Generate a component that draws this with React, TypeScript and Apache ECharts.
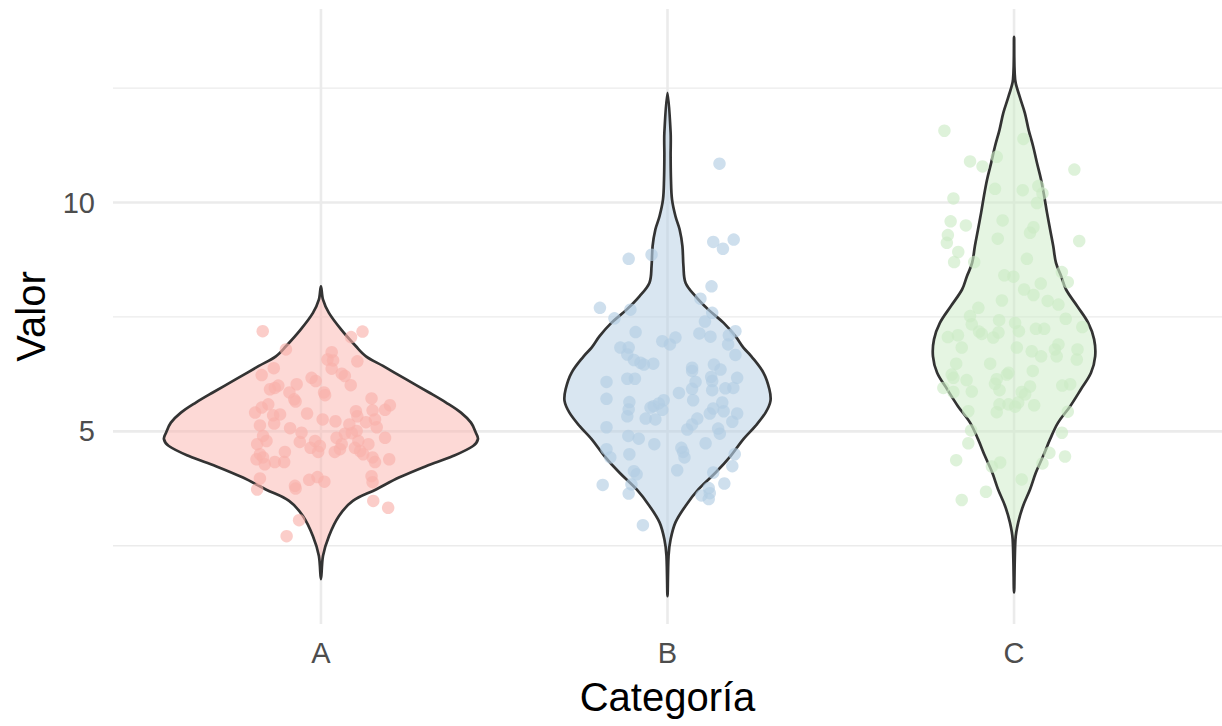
import React, { useEffect, useRef } from "react";
import * as echarts from "echarts";

const categories = ["A", "B", "C"];
const fillColors = ["rgba(251,180,174,0.5)", "rgba(179,205,227,0.5)", "rgba(204,235,197,0.5)"];
const pointColors = ["rgba(249,176,170,0.8)", "rgba(179,205,227,0.8)", "rgba(204,235,197,0.8)"];

const yMajor = [5, 10];
const yMinor = [2.5, 7.5, 12.5];
const yTickLabels = [5, 10];

// violin outlines: value positions and half-widths (x units)
const violinY_A = [1.77, 2.28, 2.71, 3.15, 3.48, 3.73, 3.99, 4.24, 4.46, 4.68, 4.83, 4.97, 5.19, 5.41, 5.63, 5.85, 6.14, 6.43, 6.64, 6.86, 7.23, 7.59, 7.88, 8.17];
const violinW_A = [0, 0.006, 0.023, 0.052, 0.092, 0.159, 0.225, 0.303, 0.381, 0.439, 0.453, 0.447, 0.433, 0.404, 0.361, 0.312, 0.245, 0.179, 0.13, 0.101, 0.058, 0.023, 0.006, 0];

const violinY_B = [1.4, 2.28, 2.64, 3.01, 3.37, 3.73, 4.1, 4.46, 4.83, 5.12, 5.41, 5.66, 5.92, 6.28, 6.64, 6.83, 7.08, 7.37, 7.66, 7.95, 8.25, 8.61, 9.05, 9.41, 9.7, 10.07, 10.5, 11.01, 11.53, 12.4];
const violinW_B = [0, 0.003, 0.009, 0.023, 0.052, 0.089, 0.139, 0.182, 0.219, 0.254, 0.283, 0.297, 0.294, 0.277, 0.242, 0.219, 0.196, 0.162, 0.118, 0.081, 0.052, 0.046, 0.043, 0.035, 0.023, 0.013, 0.01, 0.009, 0.009, 0];

const violinY_C = [1.48, 2.64, 3.01, 3.37, 3.73, 4.1, 4.46, 4.83, 5.19, 5.55, 5.92, 6.28, 6.64, 7.01, 7.37, 7.74, 8.1, 8.39, 8.68, 9.05, 9.41, 9.78, 10.14, 10.5, 10.87, 11.23, 11.59, 11.96, 12.32, 12.69, 13.62];
const violinW_C = [0, 0.004, 0.012, 0.026, 0.046, 0.063, 0.084, 0.104, 0.127, 0.162, 0.193, 0.222, 0.234, 0.231, 0.214, 0.182, 0.15, 0.136, 0.121, 0.113, 0.104, 0.095, 0.087, 0.078, 0.066, 0.055, 0.042, 0.031, 0.016, 0.003, 0];

// jittered points: horizontal jitter offset and value
const jitterA = [-0.168, 0.12, 0.087, -0.101, 0.031, 0.019, 0.035, 0.105, -0.136, 0.031, 0.06, 0.069, -0.171, -0.027, -0.015, 0.086, -0.07, -0.123, -0.147, -0.133, 0.009, 0.012, -0.091, -0.077, -0.073, 0.146, -0.152, -0.171, -0.19, 0.199, 0.185, 0.149, 0.101, 0.105, -0.04, -0.118, -0.138, 0.005, 0.042, 0.13, 0.156, -0.176, -0.135, 0.082, 0.161, -0.089, -0.056, 0.103, 0.089, 0.069, -0.167, 0.045, 0.185, -0.157, -0.184, -0.061, -0.017, 0.06, 0.108, 0.137, -0.03, -0.003, -0.008, 0.04, 0.055, 0.098, 0.113, 0.122, -0.104, -0.176, -0.167, -0.186, -0.162, -0.133, -0.106, 0.149, 0.156, 0.197, -0.176, -0.184, -0.075, -0.073, -0.034, -0.01, 0.01, 0.146, 0.149, 0.151, 0.194, -0.063, -0.099];
const valueA = [7.19, 7.18, 7.06, 6.79, 6.73, 6.57, 6.55, 6.53, 6.38, 6.37, 6.26, 6.21, 6.23, 6.17, 6.1, 6.01, 6.03, 6.0, 5.92, 5.95, 5.85, 5.79, 5.85, 5.7, 5.65, 5.72, 5.59, 5.52, 5.41, 5.57, 5.47, 5.46, 5.44, 5.33, 5.39, 5.37, 5.35, 5.26, 5.22, 5.2, 5.26, 5.13, 5.17, 5.15, 5.09, 5.07, 4.97, 5.01, 4.96, 4.95, 4.9, 4.86, 4.86, 4.79, 4.72, 4.77, 4.79, 4.72, 4.79, 4.72, 4.64, 4.68, 4.55, 4.55, 4.61, 4.64, 4.57, 4.5, 4.55, 4.5, 4.43, 4.39, 4.28, 4.33, 4.33, 4.43, 4.33, 4.39, 3.97, 3.73, 3.81, 3.75, 3.94, 4.0, 3.9, 4.02, 3.89, 3.48, 3.33, 3.06, 2.71];

const jitterB = [0.15, 0.132, 0.191, 0.16, -0.112, -0.046, 0.127, 0.095, -0.195, -0.107, -0.153, 0.129, 0.108, -0.092, 0.092, 0.124, 0.196, 0.177, -0.015, 0.023, 0.007, -0.136, -0.112, 0.175, -0.116, -0.097, -0.078, -0.068, -0.041, 0.196, 0.071, 0.071, 0.134, 0.153, -0.176, -0.116, -0.094, 0.081, 0.126, 0.129, 0.201, 0.071, 0.129, 0.167, 0.19, 0.033, -0.176, 0.074, -0.11, -0.011, -0.025, -0.04, -0.049, -0.112, -0.116, -0.015, -0.063, -0.035, 0.158, 0.132, 0.162, 0.122, 0.201, 0.187, 0.086, 0.071, 0.057, -0.176, 0.146, 0.151, -0.113, -0.083, -0.038, 0.11, -0.176, -0.165, -0.11, 0.04, 0.045, 0.049, 0.194, 0.187, 0.028, -0.097, -0.089, 0.132, -0.187, -0.104, -0.112, 0.164, 0.119, 0.122, 0.098, 0.119, -0.071];
const valueB = [10.85, 9.14, 9.19, 8.99, 8.77, 8.86, 8.17, 7.9, 7.7, 7.66, 7.47, 7.59, 7.4, 7.17, 7.14, 7.07, 7.19, 7.1, 6.97, 7.05, 6.9, 6.83, 6.83, 6.9, 6.68, 6.56, 6.5, 6.46, 6.48, 6.67, 6.39, 6.32, 6.46, 6.35, 6.08, 6.15, 6.15, 6.08, 6.19, 6.1, 6.17, 5.93, 5.9, 5.94, 5.95, 5.84, 5.71, 5.68, 5.64, 5.68, 5.61, 5.55, 5.52, 5.48, 5.33, 5.47, 5.28, 5.26, 5.63, 5.5, 5.44, 5.39, 5.39, 5.21, 5.28, 5.15, 5.04, 5.09, 5.06, 4.95, 4.9, 4.84, 4.72, 4.74, 4.61, 4.43, 4.5, 4.64, 4.55, 4.43, 4.5, 4.24, 4.15, 4.13, 4.06, 4.1, 3.83, 3.84, 3.64, 3.86, 3.76, 3.65, 3.6, 3.52, 2.95];

const jitterC = [-0.201, 0.027, -0.127, -0.091, -0.05, 0.174, -0.175, -0.055, 0.025, 0.07, 0.082, 0.066, -0.183, -0.139, -0.033, 0.056, 0.046, -0.191, -0.194, -0.047, 0.188, -0.161, -0.173, -0.115, 0.037, 0.138, 0.155, -0.028, -0.002, 0.029, 0.077, 0.056, -0.035, 0.097, 0.128, -0.103, -0.127, -0.122, -0.043, 0.003, 0.014, 0.149, 0.197, 0.063, 0.087, -0.191, -0.162, -0.101, -0.093, -0.06, -0.045, -0.151, 0.008, 0.051, 0.078, 0.128, 0.118, 0.123, 0.183, 0.181, -0.167, -0.069, -0.18, -0.175, -0.137, -0.05, -0.055, -0.021, -0.016, 0.054, -0.204, -0.175, -0.122, -0.042, 0.046, 0.022, 0.032, 0.139, 0.162, -0.132, -0.05, -0.042, -0.016, 0.003, 0.012, 0.058, 0.155, -0.124, -0.132, 0.138, -0.167, -0.064, -0.04, 0.102, 0.082, 0.147, 0.022, -0.081, -0.151];
const valueC = [11.57, 11.39, 10.9, 10.79, 11.0, 10.72, 10.09, 10.3, 10.27, 10.36, 10.2, 9.99, 9.59, 9.5, 9.61, 9.46, 9.34, 9.29, 9.12, 9.21, 9.16, 8.92, 8.7, 8.7, 8.77, 8.48, 8.26, 8.41, 8.38, 8.1, 8.23, 7.98, 7.86, 7.85, 7.77, 7.7, 7.52, 7.34, 7.43, 7.37, 7.19, 7.46, 7.28, 7.24, 7.24, 7.06, 7.1, 7.18, 7.13, 7.05, 7.16, 6.83, 6.83, 6.75, 6.64, 6.9, 6.79, 6.64, 6.79, 6.57, 6.48, 6.48, 6.24, 6.17, 6.12, 6.14, 6.04, 6.24, 6.28, 6.32, 5.95, 5.86, 5.87, 5.9, 5.98, 5.86, 5.81, 6.0, 6.03, 5.44, 5.42, 5.59, 5.59, 5.54, 5.63, 5.57, 5.43, 5.02, 4.74, 4.97, 4.37, 4.23, 4.32, 4.53, 4.3, 4.45, 3.95, 3.68, 3.5];

const violinYs = [violinY_A, violinY_B, violinY_C];
const violinWs = [violinW_A, violinW_B, violinW_C];
const jitters = [jitterA, jitterB, jitterC];
const values = [valueA, valueB, valueC];

const FONT = "'Liberation Sans', Arial, Helvetica, sans-serif";

export default function App() {
  const ref = useRef<HTMLDivElement>(null);

  useEffect(() => {
    if (!ref.current) return;
    const chart = echarts.init(ref.current, undefined, { renderer: "svg" });

    const gridSeries: any = {
      type: "custom",
      silent: true,
      z: 0,
      data: [[2, 7]],
      renderItem: (params: any, api: any) => {
        const cs = params.coordSys;
        const children: any[] = [];
        yMinor.forEach((v) => {
          const y = api.coord([2, v])[1];
          children.push({ type: "line", shape: { x1: cs.x, y1: y, x2: cs.x + cs.width, y2: y }, style: { stroke: "#EBEBEB", lineWidth: 1.3 } });
        });
        yMajor.forEach((v) => {
          const y = api.coord([2, v])[1];
          children.push({ type: "line", shape: { x1: cs.x, y1: y, x2: cs.x + cs.width, y2: y }, style: { stroke: "#EBEBEB", lineWidth: 2.6 } });
        });
        categories.forEach((_, i) => {
          const x = api.coord([i + 1, 5])[0];
          children.push({ type: "line", shape: { x1: x, y1: cs.y, x2: x, y2: cs.y + cs.height }, style: { stroke: "#EBEBEB", lineWidth: 2.6 } });
        });
        return { type: "group", children };
      },
    };

    const violinSeries: any = {
      type: "custom",
      silent: true,
      z: 1,
      data: [[1, 5], [2, 5], [3, 5]],
      renderItem: (params: any, api: any) => {
        const i = params.dataIndex;
        const ys = violinYs[i];
        const ws = violinWs[i];
        const cx = i + 1;
        const pts: number[][] = [];
        for (let k = 0; k < ys.length; k++) {
          const p = api.coord([cx - ws[k], ys[k]]);
          pts.push([p[0], p[1]]);
        }
        for (let k = ys.length - 2; k >= 1; k--) {
          const p = api.coord([cx + ws[k], ys[k]]);
          pts.push([p[0], p[1]]);
        }
        return {
          type: "polygon",
          shape: { points: pts, smooth: 0.35 },
          style: { fill: fillColors[i], stroke: "#333333", lineWidth: 2.7, lineJoin: "round" },
        };
      },
    };

    const scatterSeries = categories.map((c, i) => ({
      type: "scatter",
      name: c,
      z: 2,
      symbol: "circle",
      symbolSize: 12.5,
      silent: true,
      itemStyle: { color: pointColors[i], borderWidth: 0 },
      data: values[i].map((v, k) => [i + 1 + jitters[i][k], v]),
    }));

    chart.setOption({
      animation: false,
      backgroundColor: "#FFFFFF",
      grid: { left: 113, right: 0, top: 9, bottom: 102, containLabel: false },
      xAxis: {
        type: "value",
        min: 0.4,
        max: 3.6,
        name: "Categoría",
        nameLocation: "middle",
        nameGap: 53,
        nameTextStyle: { fontFamily: FONT, fontSize: 40, color: "#000000" },
        axisLine: { show: false },
        axisTick: { show: false },
        splitLine: { show: false },
        axisLabel: {
          customValues: [1, 2, 3],
          formatter: (v: number) => categories[Math.round(v) - 1] ?? "",
          fontFamily: FONT,
          fontSize: 29,
          color: "#4D4D4D",
          margin: 14,
        },
      },
      yAxis: {
        type: "value",
        min: 0.79,
        max: 14.23,
        name: "Valor",
        nameLocation: "middle",
        nameGap: 62,
        nameRotate: 90,
        nameTextStyle: { fontFamily: FONT, fontSize: 40, color: "#000000" },
        axisLine: { show: false },
        axisTick: { show: false },
        splitLine: { show: false },
        axisLabel: {
          customValues: yTickLabels,
          fontFamily: FONT,
          fontSize: 29,
          color: "#4D4D4D",
          margin: 18,
        },
      },
      series: [gridSeries, violinSeries, ...scatterSeries],
    });

    return () => chart.dispose();
  }, []);

  return (
    <div
      ref={ref}
      style={{ position: "fixed", left: 0, top: 0, width: 1222, height: 726, background: "#FFFFFF" }}
    />
  );
}
